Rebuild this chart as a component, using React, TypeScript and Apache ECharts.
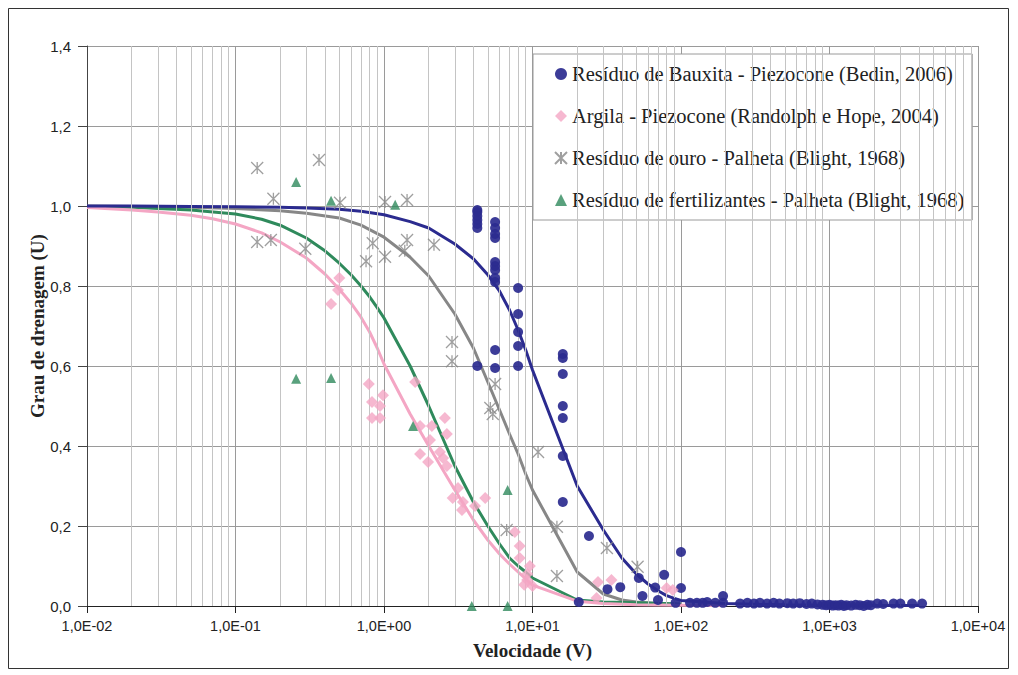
import React, { useEffect, useRef } from 'react';
import * as echarts from 'echarts';

// ---------- Fitted curves ----------
const curveBauxita: [number, number][] = [
  [0.01, 1.0], [0.02, 1.0], [0.05, 0.999], [0.1, 0.998], [0.2, 0.997], [0.3, 0.995], [0.5, 0.992],
  [0.7, 0.987], [1, 0.978], [1.5, 0.961], [2, 0.945], [3, 0.905], [4, 0.868], [5, 0.828], [6, 0.787],
  [7, 0.74], [8, 0.69], [9, 0.64], [10, 0.59], [20, 0.3], [30, 0.19], [40, 0.12], [50, 0.08], [60, 0.055],
  [70, 0.038], [80, 0.026], [90, 0.019], [100, 0.014], [200, 0.006], [500, 0.003], [1000, 0.002], [4000, 0.001],
];
const curveArgila: [number, number][] = [
  [0.01, 0.996], [0.02, 0.99], [0.03, 0.985], [0.05, 0.977], [0.07, 0.968], [0.1, 0.955], [0.15, 0.933],
  [0.2, 0.91], [0.3, 0.87], [0.4, 0.83], [0.5, 0.792], [0.6, 0.757], [0.7, 0.722], [0.8, 0.685],
  [0.9, 0.645], [1, 0.605], [1.5, 0.48], [2, 0.4], [3, 0.29], [4, 0.215], [5, 0.165],
  [6, 0.13], [7, 0.105], [8, 0.085], [9, 0.068], [10, 0.052], [20, 0.012], [30, 0.006], [50, 0.003],
  [100, 0.002], [200, 0.001],
];
const curveOuro: [number, number][] = [
  [0.01, 1.0], [0.02, 0.999], [0.05, 0.997], [0.1, 0.994], [0.2, 0.988], [0.3, 0.982], [0.5, 0.97],
  [0.7, 0.952], [1, 0.922], [1.5, 0.872], [2, 0.825], [3, 0.73], [4, 0.645], [5, 0.56], [6, 0.49],
  [7, 0.43], [8, 0.38], [9, 0.33], [10, 0.29], [20, 0.085], [30, 0.03], [40, 0.015], [50, 0.01],
  [70, 0.006], [100, 0.004],
];
const curveFertil: [number, number][] = [
  [0.01, 0.999], [0.02, 0.997], [0.05, 0.99], [0.1, 0.98], [0.15, 0.967], [0.2, 0.952], [0.3, 0.92],
  [0.4, 0.888], [0.5, 0.857], [0.6, 0.828], [0.7, 0.8], [0.8, 0.773], [0.9, 0.746], [1, 0.72],
  [1.5, 0.6], [2, 0.5], [3, 0.35], [4, 0.26], [5, 0.2], [6, 0.155], [7, 0.12], [8, 0.1],
  [9, 0.085], [10, 0.07], [20, 0.015], [30, 0.01], [50, 0.008], [100, 0.005],
];

const pontosBauxita: [number, number][] = [
  [4.25, 0.99], [4.25, 0.985], [4.25, 0.975], [4.25, 0.965], [4.25, 0.955], [4.25, 0.945], [4.25, 0.6],
  [5.6, 0.96], [5.6, 0.945], [5.6, 0.93], [5.6, 0.92], [5.6, 0.86], [5.6, 0.85], [5.6, 0.84], [5.6, 0.82],
  [5.6, 0.81], [5.6, 0.64], [5.6, 0.595],
  [8, 0.795], [8, 0.73], [8, 0.685], [8, 0.65], [8, 0.6],
  [16, 0.63], [16, 0.62], [16, 0.58], [16, 0.5], [16, 0.47], [16, 0.375], [16, 0.26],
  [24, 0.175], [20.5, 0.01], [32, 0.042], [39, 0.047], [52, 0.07], [55, 0.025], [67, 0.046], [77, 0.078],
  [70, 0.015], [100, 0.135], [100, 0.045], [92, 0.008], [115, 0.008], [128, 0.008], [192, 0.025], [192, 0.008],
  [140, 0.008], [150, 0.01], [170, 0.008], [250, 0.006], [280, 0.008], [310, 0.006], [340, 0.008], [380, 0.006],
  [420, 0.008], [460, 0.006], [520, 0.007], [570, 0.006], [630, 0.007], [700, 0.005], [760, 0.006], [830, 0.004],
  [900, 0.003], [950, 0.002], [1000, 0.003], [1050, 0.001], [1100, 0.002], [1150, 0.001], [1200, 0.003],
  [1250, 0.0], [1300, 0.002], [1400, 0.001], [1500, 0.003], [1600, 0.002], [1700, 0.0], [1800, 0.003],
  [1900, 0.002], [2100, 0.006], [2300, 0.005], [2700, 0.006], [3000, 0.006], [3600, 0.006], [4200, 0.006],
];
const pontosArgila: [number, number][] = [
  [0.5, 0.82], [0.49, 0.79], [0.44, 0.755],
  [0.79, 0.555], [0.985, 0.527], [0.83, 0.51], [0.94, 0.5], [0.83, 0.47], [0.94, 0.47],
  [1.62, 0.56], [1.75, 0.45], [2.1, 0.45], [2.57, 0.47], [2.65, 0.43], [2.04, 0.415], [1.75, 0.38],
  [2.38, 0.385], [2.5, 0.37], [1.98, 0.36], [2.65, 0.35], [3.15, 0.295], [2.9, 0.27], [3.4, 0.26],
  [4.1, 0.25], [4.8, 0.27], [3.35, 0.24],
  [7.6, 0.185], [8.2, 0.15], [8.2, 0.12], [9.6, 0.1], [9.2, 0.08], [9.2, 0.065], [8.8, 0.053], [10, 0.05],
  [27.6, 0.06], [34, 0.065], [27, 0.02], [80, 0.045], [88, 0.04],
];
const pontosOuro: [number, number][] = [
  [0.14, 1.095], [0.365, 1.115], [0.18, 1.018], [0.506, 1.008], [1.016, 1.01], [1.43, 1.015],
  [0.14, 0.91], [0.173, 0.915], [0.295, 0.893], [0.84, 0.907], [0.757, 0.862], [1.016, 0.873],
  [1.43, 0.915], [1.38, 0.888], [2.17, 0.903],
  [2.87, 0.66], [2.87, 0.612], [5.6, 0.555], [5.2, 0.495], [5.4, 0.48], [10.9, 0.385], [6.7, 0.19],
  [14.6, 0.198], [14.6, 0.075], [31.7, 0.145], [51, 0.098],
];
const pontosFertil: [number, number][] = [
  [0.256, 1.06], [0.44, 1.013], [1.19, 1.003], [0.256, 0.568], [0.44, 0.57], [1.57, 0.45],
  [6.8, 0.29], [3.9, 0.0], [6.8, 0.0],
];

const legendNames = [
  'Resíduo de Bauxita - Piezocone (Bedin, 2006)',
  'Argila - Piezocone (Randolph e Hope, 2004)',
  'Resíduo de ouro - Palheta (Blight, 1968)',
  'Resíduo de fertilizantes - Palheta (Blight, 1968)',
];
const xAxisTitle = 'Velocidade (V)';
const yAxisTitle = 'Grau de drenagem (U)';

const NAVY = '#2b2b8f';
const PINK = '#f4a6c4';
const GRAY = '#878787';
const GREEN = '#2f8a5c';
const SERIF = '"Liberation Serif", "Times New Roman", serif';
const SANS = '"Liberation Sans", Arial, sans-serif';

export default function App() {
  const ref = useRef<HTMLDivElement>(null);
  useEffect(() => {
    if (!ref.current) return;
    const chart = echarts.init(ref.current, undefined, { renderer: 'svg' });

    const minorX: number[] = [];
    for (let e = -2; e < 4; e++) {
      for (let k = 2; k <= 9; k++) minorX.push(k * Math.pow(10, e));
    }

    const fmtX = (v: number) => {
      const e = Math.round(Math.log10(v));
      return '1,0E' + (e < 0 ? '-' : '+') + String(Math.abs(e)).padStart(2, '0');
    };

    const lineSeries = (name: string, data: [number, number][], color: string) => ({
      type: 'line',
      name,
      data,
      showSymbol: false,
      symbol: 'none',
      smooth: false,
      z: 3,
      lineStyle: { color, width: 3 },
      itemStyle: { color },
      silent: true,
    });

    chart.setOption({
      animation: false,
      backgroundColor: '#ffffff',
      textStyle: { fontFamily: SERIF },
      grid: { left: 87, right: 40, top: 46, bottom: 69, containLabel: false },
      graphic: [
        {
          type: 'rect',
          shape: { x: 8.5, y: 8.5, width: 1000, height: 660 },
          style: { fill: 'none', stroke: '#333', lineWidth: 1 },
          silent: true,
          z: 0,
        },
      ],
      legend: {
        data: legendNames,
        orient: 'vertical',
        left: 533,
        top: 54,
        itemWidth: 12,
        itemHeight: 12,
        itemGap: 20,
        padding: [9, 8, 9, 21],
        backgroundColor: '#ffffff',
        borderColor: '#9a9a9a',
        borderWidth: 1,
        textStyle: { fontFamily: SERIF, fontSize: 20.5, color: '#222', lineHeight: 22 },
      },
      xAxis: {
        type: 'log',
        logBase: 10,
        min: 0.01,
        max: 10000,
        name: xAxisTitle,
        nameLocation: 'middle',
        nameGap: 35,
        nameMoveOverlap: false,
        nameTextStyle: { fontFamily: SERIF, fontWeight: 'bold', fontSize: 19, color: '#222' },
        axisLine: { show: true, lineStyle: { color: '#222', width: 1 } },
        axisTick: { show: true, length: 7, lineStyle: { color: '#222' } },
        axisLabel: { formatter: fmtX, fontFamily: SANS, fontSize: 14.5, color: '#222', margin: 12 },
        splitLine: { show: true, lineStyle: { color: '#9a9a9a', width: 1 } },
      },
      yAxis: {
        type: 'value',
        min: 0,
        max: 1.4,
        interval: 0.2,
        name: yAxisTitle,
        nameLocation: 'middle',
        nameGap: 40,
        nameMoveOverlap: false,
        nameTextStyle: { fontFamily: SERIF, fontWeight: 'bold', fontSize: 19, color: '#222' },
        axisLine: { show: true, lineStyle: { color: '#444', width: 1 } },
        axisTick: { show: true, inside: false, length: 9, lineStyle: { color: '#444' } },
        axisLabel: {
          formatter: (v: number) => v.toFixed(1).replace('.', ','),
          fontFamily: SANS,
          fontSize: 15,
          color: '#222',
          margin: 16,
        },
        splitLine: { show: true, lineStyle: { color: '#9a9a9a', width: 1 } },
      },
      series: [
        {
          type: 'line',
          name: 'grid-minor',
          data: [],
          z: 1,
          silent: true,
          markLine: {
            silent: true,
            symbol: 'none',
            label: { show: false },
            lineStyle: { color: '#c4c4c4', type: 'solid', width: 1 },
            data: minorX.map((v) => ({ xAxis: v })),
          },
        },
        lineSeries('curva-ouro', curveOuro, GRAY),
        lineSeries('curva-fertil', curveFertil, GREEN),
        lineSeries('curva-argila', curveArgila, PINK),
        lineSeries('curva-bauxita', curveBauxita, NAVY),
        {
          type: 'scatter',
          name: legendNames[0],
          data: pontosBauxita,
          symbol: 'circle',
          symbolSize: 10,
          clip: false,
          z: 5,
          itemStyle: { color: NAVY, opacity: 0.92 },
        },
        {
          type: 'scatter',
          name: legendNames[1],
          data: pontosArgila,
          symbol: 'diamond',
          symbolSize: 12,
          clip: false,
          z: 5,
          itemStyle: { color: PINK },
        },
        {
          type: 'scatter',
          name: legendNames[2],
          data: pontosOuro,
          symbol: 'path://M0,0L10,10M10,0L0,10M5,0L5,10',
          symbolSize: 12,
          clip: false,
          z: 5,
          itemStyle: { color: 'rgba(0,0,0,0)', borderColor: GRAY, borderWidth: 1.3 },
        },
        {
          type: 'scatter',
          name: legendNames[3],
          data: pontosFertil,
          symbol: 'triangle',
          symbolSize: 10,
          clip: false,
          z: 5,
          itemStyle: { color: GREEN },
        },
      ],
    });
    return () => chart.dispose();
  }, []);

  return (
    <div
      ref={ref}
      style={{ position: 'absolute', left: 0, top: 0, width: 1018, height: 675, background: '#fff' }}
    />
  );
}
